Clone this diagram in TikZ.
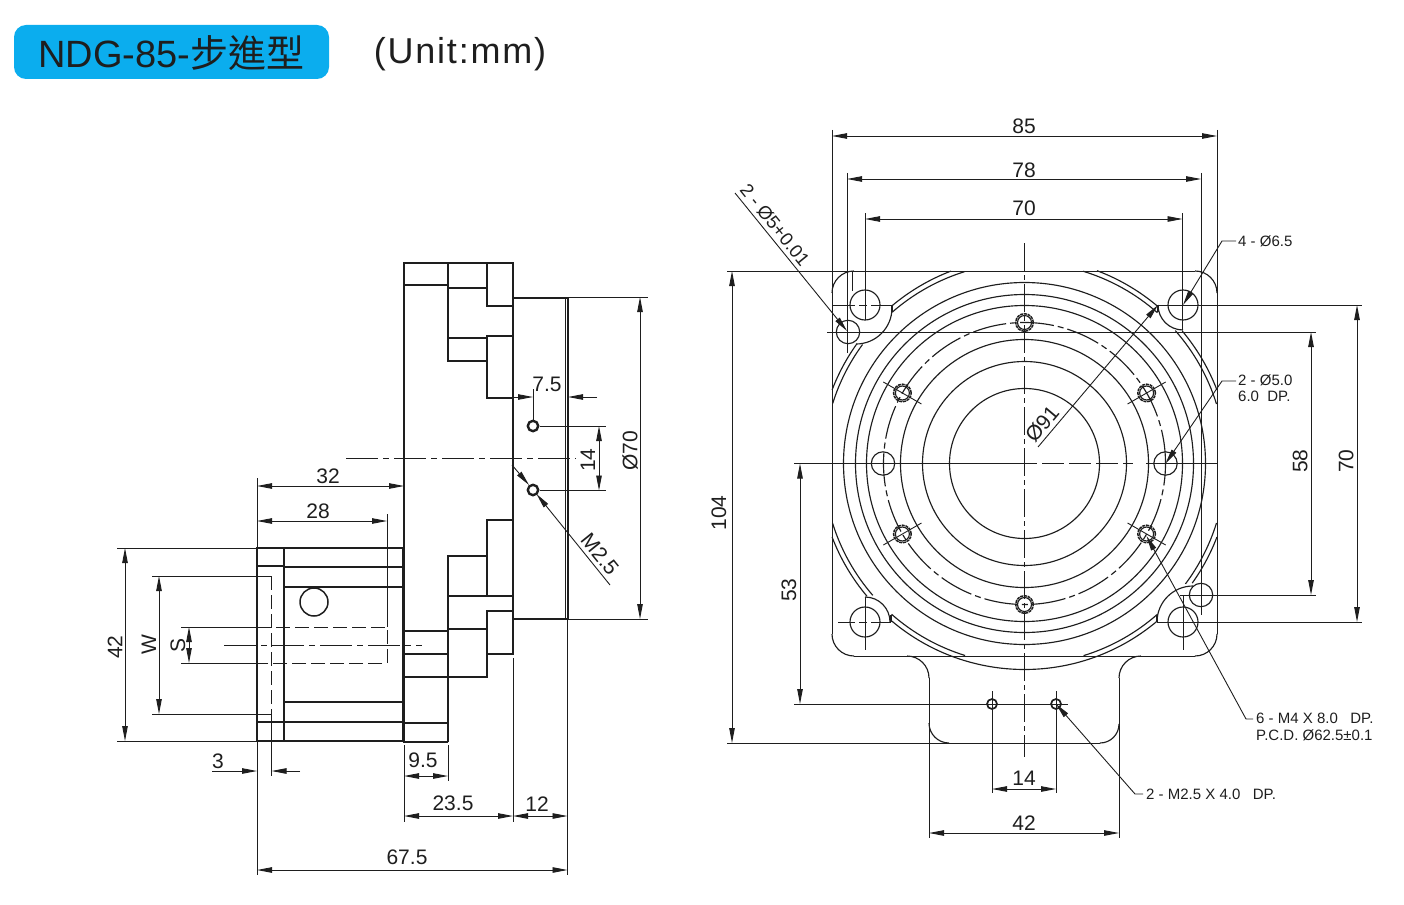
\documentclass[tikz,border=0pt]{standalone}
\usepackage{fontspec}
\setmainfont{Liberation Sans}
\newfontfamily\cjk{Noto Sans CJK TC}
\newfontfamily\wideface[LetterSpace=5]{Liberation Sans}
\usetikzlibrary{arrows.meta}
\definecolor{inkcol}{HTML}{1E1E1E}
\definecolor{badgecol}{HTML}{0BADEE}
\tikzset{
	x=1pt, y=1pt,
	dimtip/.tip={Triangle[length=15pt,width=5.5pt]},
	thinline/.style={draw=inkcol, line width=0.9pt},
	dimline/.style={thinline, {dimtip}-{dimtip}},
	tipline/.style={thinline, -{dimtip}},
	outline/.style={draw=inkcol, line width=1.9pt},
	partline/.style={draw=inkcol, line width=1.15pt},
	hidden/.style={thinline, dash pattern=on 14pt off 5pt},
	centerline/.style={thinline, dash pattern=on 32pt off 5pt on 6pt off 5pt},
	dimtext/.style={inner sep=0pt, text=inkcol, font=\fontsize{21}{24}\selectfont},
	notetext/.style={inner sep=0pt, anchor=west, text=inkcol, font=\fontsize{15}{17}\selectfont}
}
\newcommand{\ringarc}[3]{\draw[partline] (1024.5,-463.5) ++(#2:#1) arc[start angle=#2, end angle=#3, radius=#1];}
\begin{document}
\begin{tikzpicture}

	\useasboundingbox (0,0) rectangle (1404,-904);

	\node[fill=badgecol, rounded corners=12pt, minimum width=315pt, minimum height=54pt, inner sep=0pt] (badge) at (171.5,-52) {};
	\node[inner sep=0pt, text=inkcol, font=\fontsize{38}{42}\selectfont] (title) at (171.5,-53) {NDG-85-{\cjk 步進型}};
	\node[inner sep=0pt, text=inkcol, font=\fontsize{36}{42}\wideface] (unit) at (460,-54) {(Unit:mm)};

	% side view, flange
	\draw[outline] (448,-742) -- (404,-742) -- (404,-263) -- (513,-263) -- (513,-654) -- (487,-654) -- (487,-677) -- (404,-677);
	\draw[outline] (404,-285) -- (448,-285);
	\draw[outline] (448,-263) -- (448,-361) -- (487,-361);
	\draw[outline] (448,-288) -- (487,-288);
	\draw[outline] (487,-263) -- (487,-306) -- (513,-306);
	\draw[outline] (448,-338) -- (487,-338);
	\draw[outline] (513,-336) -- (487,-336) -- (487,-398) -- (513,-398);
	\draw[outline] (513,-520) -- (487,-520) -- (487,-596);
	\draw[outline] (448,-742) -- (448,-556) -- (487,-556);
	\draw[outline] (448,-596) -- (513,-596);
	\draw[outline] (513,-611) -- (487,-611) -- (487,-654);
	\draw[outline] (448,-629) -- (487,-629);
	\draw[outline] (404,-631) -- (448,-631);
	\draw[outline] (404,-654) -- (448,-654);
	\draw[outline] (404,-723) -- (448,-723);

	% side view, output shaft
	\draw[outline] (513,-298) -- (568,-298) -- (568,-619) -- (513,-619);
	\draw[outline] (565.5,-298) -- (565.5,-619);
	\draw[outline, line width=2.4pt] (533,-426) circle (5.2);
	\draw[outline, line width=2.4pt] (533,-490) circle (5.2);

	% side view, motor
	\draw[outline] (257,-548) rectangle (403,-741);
	\draw[draw=inkcol, line width=2.8pt] (403,-548) -- (403,-741);
	\draw[outline] (284,-548) -- (284,-741);
	\draw[outline] (257,-566) -- (284,-566);
	\draw[outline] (284,-567) -- (403,-567);
	\draw[outline] (284,-587) -- (403,-587);
	\draw[outline] (284,-702) -- (403,-702);
	\draw[outline] (257,-722) -- (403,-722);
	\draw[partline, line width=1.5pt] (314,-602) circle (14);
	\draw[hidden] (271.5,-576) -- (271.5,-714);
	\draw[hidden] (257,-627) -- (387,-627) -- (387,-663) -- (257,-663);
	\draw[centerline] (346,-458) -- (576,-458);
	\draw[centerline] (224,-645) -- (422,-645);

	% side view, extension lines
	\draw[thinline] (117,-548) -- (257,-548);
	\draw[thinline] (117,-741) -- (257,-741);
	\draw[thinline] (152,-576) -- (271.5,-576);
	\draw[thinline] (152,-714) -- (271.5,-714);
	\draw[thinline] (181,-627) -- (257,-627);
	\draw[thinline] (181,-663) -- (257,-663);
	\draw[thinline] (257,-478) -- (257,-548);
	\draw[thinline] (387,-514) -- (387,-627);
	\draw[thinline] (257,-741) -- (257,-875);
	\draw[thinline] (271.5,-714) -- (271.5,-776);
	\draw[thinline] (404,-745) -- (404,-822);
	\draw[thinline] (448,-745) -- (448,-781);
	\draw[thinline] (513,-658) -- (513,-822);
	\draw[thinline] (567.5,-619) -- (567.5,-875);
	\draw[thinline] (568,-297) -- (648,-297);
	\draw[thinline] (568,-619) -- (648,-619);
	\draw[thinline] (540,-426) -- (606,-426);
	\draw[thinline] (540,-490.5) -- (606,-490.5);
	\draw[thinline] (533,-389) -- (533,-420);

	% side view, dimensions
	\draw[dimline] (257,-486) -- (404,-486);
	\draw[dimline] (257,-521) -- (387,-521);
	\draw[dimline] (125,-548) -- (125,-741);
	\draw[dimline] (159,-576) -- (159,-714);
	\draw[dimline] (189,-627) -- (189,-663);
	\draw[dimline] (404,-776) -- (448,-776);
	\draw[dimline] (404,-816) -- (513,-816);
	\draw[dimline] (513,-816) -- (567.5,-816);
	\draw[dimline] (257,-870) -- (567.5,-870);
	\draw[dimline] (599,-426) -- (599,-490.5);
	\draw[dimline] (640,-297) -- (640,-619);
	\draw[tipline] (212,-771) -- (257,-771);
	\draw[tipline] (300,-771) -- (271.5,-771);
	\draw[tipline] (513,-397) -- (533,-397);
	\draw[tipline] (597,-397) -- (568,-397);
	\draw[tipline] (512,-465) -- (529,-485);
	\draw[tipline] (610,-585) -- (536.5,-494);

	\node[dimtext] (d32) at (328,-476) {32};
	\node[dimtext] (d28) at (318,-511) {28};
	\node[dimtext, rotate=90] (d42) at (115,-647) {42};
	\node[dimtext, rotate=90] (dw) at (149,-645) {W};
	\node[dimtext, rotate=90] (ds) at (178,-645) {S};
	\node[dimtext] (d3) at (218,-761) {3};
	\node[dimtext] (d95) at (423,-760) {9.5};
	\node[dimtext] (d235) at (453,-803) {23.5};
	\node[dimtext] (d12) at (537,-804) {12};
	\node[dimtext] (d675) at (407,-857) {67.5};
	\node[dimtext] (d75) at (547,-384) {7.5};
	\node[dimtext, rotate=90] (d14a) at (588,-460) {14};
	\node[dimtext, rotate=90] (d70a) at (630,-451) {Ø70};
	\node[dimtext, rotate=-51] (dm25) at (600,-554) {M2.5};

	% front view, rings
	\foreach \r in {181,169,158,124,102,75}
		\draw[partline] (1024.5,-463.5) circle (\r);
	\draw[partline, dash pattern=on 34pt off 4pt on 6pt off 4pt] (1024.5,-463.5) circle (141);

	% front view, body arcs
	\ringarc{206}{110.9}{129.9}
	\ringarc{206}{144.5}{159.1}
	\ringarc{206}{69.4}{49.9}
	\ringarc{206}{40}{20.9}
	\ringarc{206}{200.9}{220.1}
	\ringarc{206}{229.9}{310.1}
	\ringarc{206}{324.5}{339.1}
	\ringarc{201}{107.4}{131.2}
	\ringarc{201}{143.7}{162.6}
	\ringarc{201}{73.1}{48.6}
	\ringarc{201}{41.4}{17.2}
	\ringarc{201}{197.2}{221}
	\ringarc{201}{228.6}{252.8}
	\ringarc{201}{287.1}{311.4}
	\ringarc{201}{323.2}{342.8}

	% front view, corner lugs
	\draw[partline] (892,-308) arc[start angle=0, end angle=-90, radius=36];
	\draw[partline] (1157,-622) arc[start angle=180, end angle=90, radius=36];
	\draw[partline] (1158,-305) arc[start angle=180, end angle=270, radius=25];
	\draw[partline] (890,-622) arc[start angle=0, end angle=90, radius=25];
	\draw[partline] (892,-305) -- (892,-312);
	\draw[partline] (1158,-305) -- (1158,-312);
	\draw[partline] (891,-615) -- (891,-622);
	\draw[partline] (1157,-615) -- (1157,-622);
	\draw[thinline] (852,-271) -- (852,-291);

	% front view, outer edge
	\draw[thinline] (727,-271) -- (1195,-271);
	\draw[thinline] (854,-656) -- (1195,-656);
	\draw[thinline] (727,-743) -- (1100,-743);
	\draw[thinline] (832,-130) -- (832,-634);
	\draw[thinline] (1217,-130) -- (1217,-634);
	\draw[thinline] (929,-678) -- (929,-838);
	\draw[thinline] (1119,-678) -- (1119,-838);
	\draw[partline] (832,-293) arc[start angle=180, end angle=90, radius=22];
	\draw[partline] (1195,-271) arc[start angle=90, end angle=0, radius=22];
	\draw[partline] (832,-634) arc[start angle=180, end angle=270, radius=22];
	\draw[partline] (1195,-656) arc[start angle=270, end angle=360, radius=22];
	\draw[partline] (907,-656) arc[start angle=90, end angle=0, radius=22];
	\draw[partline] (1119,-678) arc[start angle=180, end angle=90, radius=22];
	\draw[partline] (929,-723) arc[start angle=180, end angle=270, radius=20];
	\draw[partline] (1100,-743) arc[start angle=270, end angle=360, radius=19];

	% front view, holes
	\foreach \cx/\cy in {865/305, 1183/305, 865/622, 1183/622}
		\draw[partline] (\cx,-\cy) circle (15);
	\draw[partline] (848,-332) circle (11.7);
	\draw[partline] (1201,-595) circle (11.7);
	\draw[partline] (883,-463.5) circle (11.7);
	\draw[partline] (1165.5,-463.5) circle (11.7);
	\foreach \a in {30,90,150,210,270,330} {
		\draw[partline] (1024.5,-463.5) ++(\a:141) circle (7);
		\draw[partline, line width=1.5pt, dash pattern=on 3pt off 0.8pt] (1024.5,-463.5) ++(\a:141) circle (8.8);
	}
	\foreach \a in {30,150,210,330}
		\draw[thinline] (1024.5,-463.5) ++(\a:119) -- ++(\a:44);
	\draw[outline, line width=1.7pt] (992,-704) circle (5);
	\draw[outline, line width=1.7pt] (1056,-704) circle (5);

	% front view, center lines
	\draw[thinline, dash pattern=on 28pt off 4pt on 5pt off 4pt] (1024.5,-243) -- (1024.5,-757);
	\draw[thinline] (794,-463.5) -- (1015,-463.5);
	\draw[thinline, dash pattern=on 22pt off 5pt] (1015,-463.5) -- (1133,-463.5);
	\draw[thinline] (1146,-463.5) -- (1217,-463.5);

	% front view, extension lines
	\draw[thinline] (847,-173) -- (847,-353);
	\draw[thinline] (1201,-173) -- (1201,-615);
	\draw[thinline] (865,-213) -- (865,-320);
	\draw[thinline] (1182.5,-213) -- (1182.5,-330);
	\draw[thinline] (865,-597) -- (865,-650);
	\draw[thinline] (1183,-595) -- (1183,-650);
	\draw[thinline] (827,-332) -- (1316,-332);
	\draw[thinline] (1180,-595) -- (1316,-595);
	\draw[thinline, dash pattern=on 23pt off 4pt on 8pt off 4pt on 400pt] (832,-305) -- (891,-305);
	\draw[thinline] (1158,-305) -- (1362,-305);
	\draw[thinline, dash pattern=on 17pt off 4pt on 8pt off 4pt on 400pt] (838,-622) -- (891,-622);
	\draw[thinline] (1157,-622) -- (1362,-622);
	\draw[thinline] (794,-704) -- (1068,-704);
	\draw[thinline] (992,-691) -- (992,-793);
	\draw[thinline] (1056,-691) -- (1056,-793);

	% front view, dimensions
	\draw[dimline] (832,-136) -- (1217,-136);
	\draw[dimline] (847,-179) -- (1201,-179);
	\draw[dimline] (865,-219) -- (1182.5,-219);
	\draw[dimline] (732,-271) -- (732,-743);
	\draw[dimline] (800,-463.5) -- (800,-704);
	\draw[dimline] (1311,-332) -- (1311,-595);
	\draw[dimline] (1357,-305) -- (1357,-622);
	\draw[dimline] (992,-789) -- (1056,-789);
	\draw[dimline] (929,-833) -- (1119,-833);
	\draw[tipline] (735,-193) -- (847,-331);
	\draw[tipline] (1038,-447) -- (1158,-305);
	\draw[tipline] (1236,-241) -- (1222,-241) -- (1183,-305);
	\draw[tipline] (1236,-381) -- (1222,-381) -- (1165.5,-463.5);
	\draw[tipline] (1253,-719) -- (1246,-719) -- (1146.5,-536);
	\draw[tipline] (1143,-794) -- (1135,-794) -- (1056,-704);

	\node[dimtext] (d85) at (1024,-126) {85};
	\node[dimtext] (d78) at (1024,-170) {78};
	\node[dimtext] (d70b) at (1024,-208) {70};
	\node[dimtext, rotate=90] (d104) at (719,-513) {104};
	\node[dimtext, rotate=90] (d53) at (789,-590) {53};
	\node[dimtext, rotate=90] (d58) at (1300,-461) {58};
	\node[dimtext, rotate=90] (d70c) at (1346,-461) {70};
	\node[dimtext] (d14b) at (1024,-778) {14};
	\node[dimtext] (d42b) at (1024,-823) {42};
	\node[dimtext, rotate=50] (d91) at (1042,-424) {Ø91};
	\node[notetext, anchor=center, font=\fontsize{18.5}{20}\selectfont, rotate=-51] (ndowel) at (775,-225) {2 - Ø5+0.01};
	\node[notetext] (nc) at (1238,-241) {4 - Ø6.5};
	\node[notetext] (nd) at (1238,-380) {2 - Ø5.0};
	\node[notetext] (ne) at (1238,-396) {6.0\ \ DP.};
	\node[notetext] (nf) at (1256,-718) {6 - M4 X 8.0\ \ \ DP.};
	\node[notetext] (ng) at (1256,-735) {P.C.D. Ø62.5±0.1};
	\node[notetext] (nh) at (1146,-794) {2 - M2.5 X 4.0\ \ \ DP.};

\end{tikzpicture}
\end{document}
